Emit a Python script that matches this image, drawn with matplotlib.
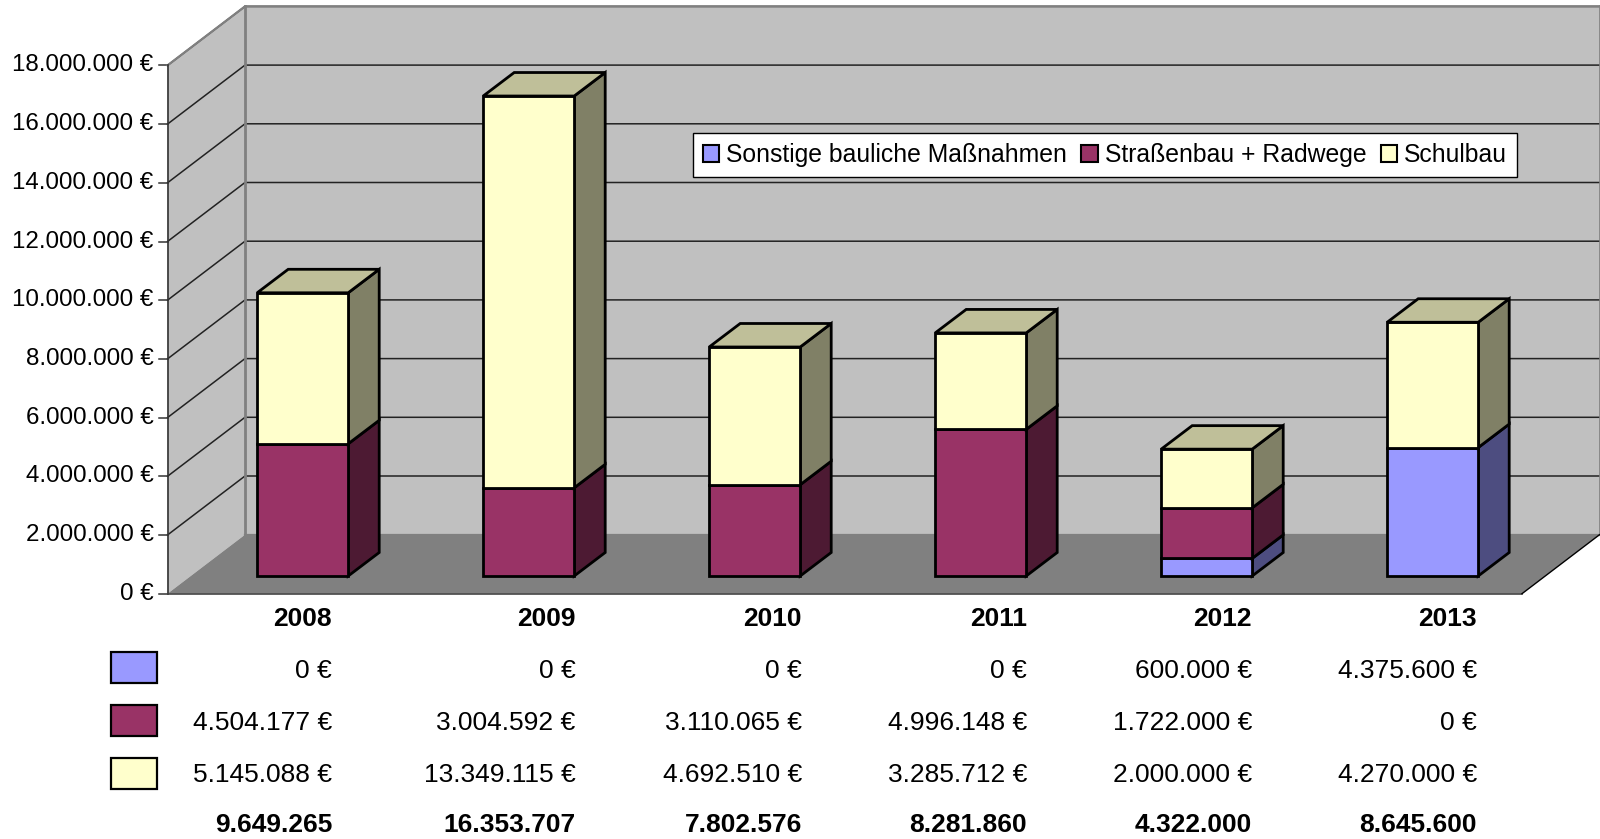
import matplotlib
matplotlib.use("Agg")
from matplotlib import pyplot as plt
from matplotlib.patches import Polygon, Patch, Rectangle

plt.rcParams['font.family'] = ['Liberation Sans', 'DejaVu Sans']

years = ['2008', '2009', '2010', '2011', '2012', '2013']
sonstige = [0, 0, 0, 0, 600000, 4375600]
strasse = [4504177, 3004592, 3110065, 4996148, 1722000, 0]
schule = [5145088, 13349115, 4692510, 3285712, 2000000, 4270000]
totals = ['9.649.265', '16.353.707', '7.802.576', '8.281.860', '4.322.000', '8.645.600']
y_ticks = [0, 2000000, 4000000, 6000000, 8000000, 10000000, 12000000, 14000000, 16000000, 18000000]
names = ['Sonstige bauliche Maßnahmen', 'Straßenbau + Radwege', 'Schulbau']

W, H = 1600, 839
X0, X_STEP = 302.7, 226.0   # pixel of first bar centre, pixels per category
Y0, Y_SCALE = 576.0, 29.35 / 1e6   # pixel of bar base, pixels per euro
BAR_W = 91 / X_STEP

fig = plt.figure(figsize=(W / 100, H / 100), dpi=100)
ax = fig.add_axes([0, 0, 1, 1])
ax.set_xlim((0 - X0) / X_STEP, (W - X0) / X_STEP)
ax.set_ylim((Y0 - H) / Y_SCALE, Y0 / Y_SCALE)
ax.axis('off')


def dx(px):
    return px / X_STEP


def dy(px):
    return px / Y_SCALE


def fmt(v):
    return f'{v:,}'.replace(',', '.') + ' €'


def shade(c, f):
    rgb = matplotlib.colors.to_rgb(c)
    return tuple(v * f for v in rgb)


# walls and floor
floor_y = -dy(17.7)
left = (167.5 - X0) / X_STEP
right = (1522 - X0) / X_STEP
ddx, ddy = dx(77.5), dy(59)
top = y_ticks[-1] + floor_y
ax.add_patch(Polygon([(left, floor_y), (left + ddx, floor_y + ddy), (left + ddx, top + ddy), (left, top)],
                     fc='#c0c0c0', ec='none', zorder=1))
ax.add_patch(Polygon([(left + ddx, floor_y + ddy), (right + ddx, floor_y + ddy), (right + ddx, top + ddy), (left + ddx, top + ddy)],
                     fc='#c0c0c0', ec='none', zorder=1))
ax.add_patch(Polygon([(left, floor_y), (right, floor_y), (right + ddx, floor_y + ddy), (left + ddx, floor_y + ddy)],
                     fc='#808080', ec='none', zorder=2))

for t in y_ticks:
    yy = t + floor_y
    if t > 0:
        ax.plot([left, left + ddx, right + ddx], [yy, yy + ddy, yy + ddy], color='#222222', lw=1.1, zorder=2)
    ax.plot([left - dx(8), left], [yy, yy], color='#333333', lw=1.1, zorder=2)
    ax.text(left - dx(14), yy, fmt(t), ha='right', va='center', fontsize=17.4, color='black')

ax.plot([left, left + ddx, right + ddx], [top, top + ddy, top + ddy], color='#808080', lw=1.6, zorder=2)
ax.plot([left + ddx, left + ddx], [floor_y + ddy, top + ddy], color='#808080', lw=2, zorder=2)
ax.plot([left + ddx, right + ddx], [floor_y + ddy, floor_y + ddy], color='#808080', lw=1.6, zorder=3)
ax.plot([left, left], [floor_y, top], color='#333333', lw=1.2, zorder=3)
ax.plot([right + ddx, right + ddx], [floor_y + ddy, top + ddy], color='#808080', lw=1.2, zorder=3)
ax.plot([left, right], [floor_y, floor_y], color='#444444', lw=1.2, zorder=3)
ax.plot([right, right + ddx], [floor_y, floor_y + ddy], color='black', lw=1, zorder=3)

# stacked 3d bars
colors = ['#9999ff', '#993366', '#ffffcc']
bar_dx, bar_dy = dx(31), dy(23.5)
for i in range(len(years)):
    bottom = 0
    vals = [sonstige[i], strasse[i], schule[i]]
    last = max(k for k in range(3) if vals[k] > 0)
    for k in range(3):
        v = vals[k]
        if v == 0:
            continue
        l, r = i - BAR_W / 2, i + BAR_W / 2
        t = bottom + v
        kw = dict(ec='black', lw=2, joinstyle='miter', zorder=5)
        ax.add_patch(Polygon([(r, bottom), (r + bar_dx, bottom + bar_dy), (r + bar_dx, t + bar_dy), (r, t)],
                             fc=shade(colors[k], 0.5), **kw))
        ax.add_patch(Rectangle((l, bottom), BAR_W, v, fc=colors[k], **kw))
        if k == last:
            ax.add_patch(Polygon([(l, t), (r, t), (r + bar_dx, t + bar_dy), (l + bar_dx, t + bar_dy)],
                                 fc=shade(colors[k], 0.75), **kw))
        bottom = t

# data table under the chart
col_right = [332, 575.5, 802, 1027, 1252, 1477]
row_y = [619, 670.5, 723, 775, 825.5]
swatch_top = [652, 705, 758]


def tx(x, y, s, **kw):
    ax.text((x - X0) / X_STEP, (Y0 - y) / Y_SCALE, s, ha='right', va='center', fontsize=19, color='black', **kw)


for i in range(len(years)):
    tx(col_right[i], row_y[0], years[i], fontweight='bold')
    tx(col_right[i], row_y[1], fmt(sonstige[i]))
    tx(col_right[i], row_y[2], fmt(strasse[i]))
    tx(col_right[i], row_y[3], fmt(schule[i]))
    tx(col_right[i], row_y[4], totals[i], fontweight='bold')

for k in range(3):
    ax.add_patch(Rectangle(((111 - X0) / X_STEP, (Y0 - swatch_top[k] - 31) / Y_SCALE), dx(46), dy(31),
                           fc=colors[k], ec='black', lw=1.6, clip_on=False, zorder=5))

handles = [Patch(fc=colors[k], ec='black', lw=1.5, label=names[k]) for k in range(3)]
leg = ax.legend(handles=handles, ncol=3, loc='center', bbox_to_anchor=(1105 / W, 1 - 155 / H),
                bbox_transform=fig.transFigure, fontsize=17.8, frameon=True, fancybox=False,
                framealpha=1, edgecolor='black', handlelength=0.66, handleheight=0.66,
                handletextpad=0.29, columnspacing=0.57, borderpad=0.4, borderaxespad=0)
leg.get_frame().set_linewidth(1)
leg.set_zorder(10)

plt.savefig('out.png', dpi=100)
